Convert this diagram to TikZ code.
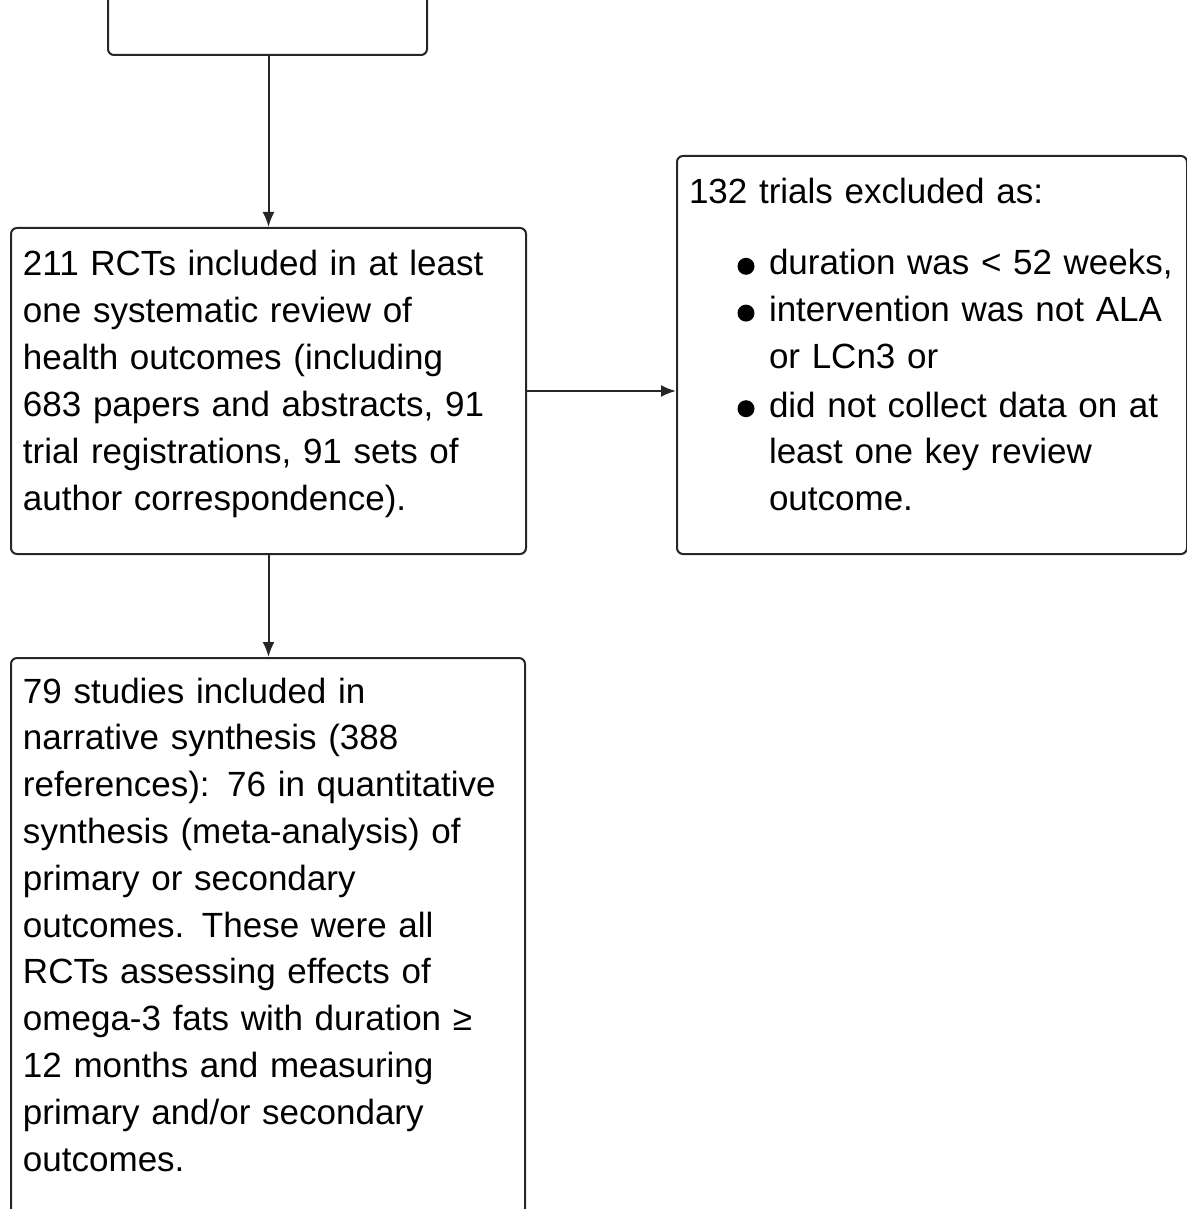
\documentclass[tikz,border=0pt]{standalone}
\usepackage{fontspec}
\setmainfont{Liberation Sans}
\usetikzlibrary{arrows.meta}
\newcommand{\bul}[1]{\hspace*{24.25pt}\makebox[15.75pt][l]{\tikz[baseline=0pt]\fill (0,4.25pt) circle[radius=4.25pt];}\parbox[t]{202pt}{\strut#1\strut}}
\begin{document}
\begin{tikzpicture}[x=0.5pt,y=-0.5pt,>={Latex[length=7.5pt,width=6pt]},
    font={\fontsize{17.5pt}{23.4pt}\selectfont},
    box/.style={draw=black!85,line width=1pt,rounded corners=3pt,anchor=north west,
      align=left,inner xsep=6pt,inner ysep=0pt,text height=24pt},
    arr/.style={->,draw=black!85,line width=1pt}]
  \useasboundingbox (0,0) rectangle (1187,1209);
  \clip (0,0) rectangle (1187,1209);
  % boxes
  \node[box,minimum width=159.5pt,minimum height=77pt] (search) at (107,-100) {};
  \node[box,text width=245.5pt,text depth=139pt] (rcts) at (10,227)
    {211 RCTs included in at least\\
     one systematic review of\\
     health outcomes (including\\
     683 papers and abstracts, 91\\
     trial registrations, 91 sets of\\
     author correspondence).};
  \node[box,text width=243pt,text depth=175pt] (excl) at (676,155)
    {132 trials excluded as:\par\vspace{12pt}
     \bul{duration was < 52 weeks,}\par
     \bul{intervention was not ALA\\or LCn3 or}\par
     \bul{did not collect data on at\\least one key review\\outcome.}};
  \node[box,text width=245pt,text height=22.5pt,text depth=300pt] (studies) at (10,657)
    {79 studies included in\\
     narrative synthesis (388\\
     references): 76 in quantitative\\
     synthesis (meta-analysis) of\\
     primary or secondary\\
     outcomes. These were all\\
     RCTs assessing effects of\\
     omega-3 fats with duration ≥\\
     12 months and measuring\\
     primary and/or secondary\\
     outcomes.};
  % arrows
  \draw[arr] (rcts.north |- search.south) -- (rcts.north);
  \draw[arr] (rcts.east) -- (rcts.east -| excl.west);
  \draw[arr] (rcts.south) -- (rcts.south |- studies.north);
\end{tikzpicture}
\end{document}
